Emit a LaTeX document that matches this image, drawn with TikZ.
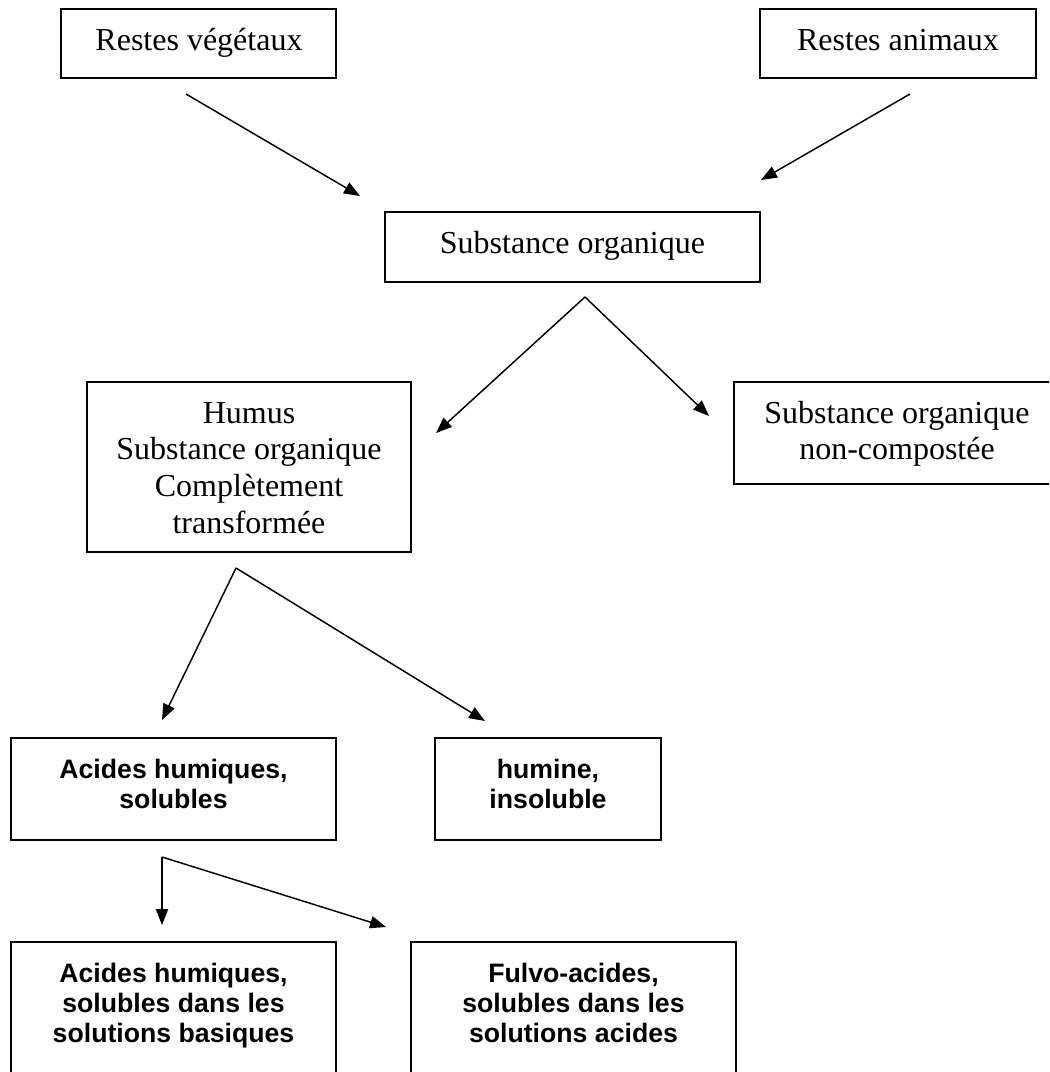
\documentclass[tikz,border=0pt]{standalone}
\usepackage{fontspec}
\setmainfont{Liberation Serif}
\setsansfont{Liberation Sans}
\usetikzlibrary{arrows.meta}
\newcommand\serifstrut{\rule{0pt}{0.891em}}
\newcommand\sansstrut{\rule{0pt}{0.905em}}
\begin{document}
\begin{tikzpicture}[x=0.375pt,y=-0.375pt,
  box/.style 2 args={draw, line width=0.75pt, inner sep=0pt, outer sep=0pt,
    minimum width=#1*0.375pt, minimum height=#2*0.375pt},
  sertxt/.style={anchor=north, align=center, inner sep=0pt,
    font=\fontsize{12pt}{13.75pt}\selectfont},
  santxt/.style={anchor=north, align=center, inner sep=0pt,
    font=\fontsize{10pt}{11.3pt}\selectfont\sffamily\bfseries},
  arr/.style={line width=0.55pt, -{Triangle[length=6pt, width=4.6pt]}}]
\useasboundingbox (0,0) rectangle (1049,1072);
\clip (0,0) rectangle (1049,1072);
% boxes
\node[box={275}{69}]  (b1) at (198.5,43.5) {};
\node[box={276}{69}]  (b2) at (898,43.5) {};
\node[box={375}{70}]  (b3) at (572.5,247) {};
\node[box={324}{170}] (b4) at (249,467) {};
\node[box={326}{102}] (b5) at (897,433) {};
\node[box={325}{102}] (b6) at (173.5,789) {};
\node[box={226}{102}] (b7) at (548,789) {};
\node[box={325}{148}] (b8) at (173.5,1016) {};
\node[box={325}{148}] (b9) at (573.5,1016) {};
% texts
\node[sertxt] (t1) at (199,21.5) {\serifstrut Restes végétaux};
\node[sertxt] (t2) at (898,21.5) {\serifstrut Restes animaux};
\node[sertxt] (t3) at (572.5,224) {\serifstrut Substance organique};
\node[sertxt] (t4) at (249,394) {\serifstrut Humus\\Substance organique\\Complètement\\transformée};
\node[sertxt] (t5) at (897,394) {\serifstrut Substance organique\\non-compostée};
\node[santxt] (t6) at (173.5,753.5) {\sansstrut Acides humiques,\\solubles};
\node[santxt] (t7) at (548,753.5) {\sansstrut humine,\\insoluble};
\node[santxt] (t8) at (173.5,957.5) {\sansstrut Acides humiques,\\solubles dans les\\solutions basiques};
\node[santxt] (t9) at (573.5,957.5) {\sansstrut Fulvo-acides,\\solubles dans les\\solutions acides};
% arrow end points
\coordinate (a1s) at (186,94);  \coordinate (a1e) at (360,196);
\coordinate (a2s) at (910,94);  \coordinate (a2e) at (761,180);
\coordinate (a3s) at (585,297); \coordinate (a3e) at (436,433);
\coordinate (a4e) at (709,416);
\coordinate (a5s) at (236,568); \coordinate (a5e) at (162,720);
\coordinate (a6e) at (485,721);
\coordinate (a7s) at (162,857); \coordinate (a7e) at (162,925);
\coordinate (a8e) at (386,927);
% arrows
\draw[arr] (a1s) -- (a1e);
\draw[arr] (a2s) -- (a2e);
\draw[arr] (a3s) -- (a3e);
\draw[arr] (a3s) -- (a4e);
\draw[arr] (a5s) -- (a5e);
\draw[arr] (a5s) -- (a6e);
\draw[arr] (a7s) -- (a7e);
\draw[arr] (a7s) -- (a8e);
\end{tikzpicture}
\end{document}
